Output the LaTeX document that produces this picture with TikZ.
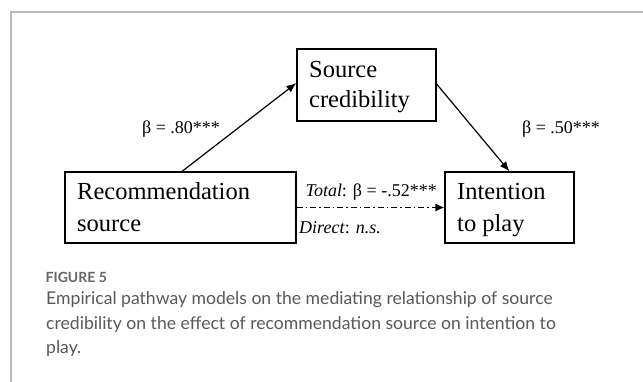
\documentclass[tikz,border=0pt]{standalone}
\usepackage{fontspec}
\setmainfont{Liberation Serif}
\newfontfamily\capfont{Lato}
\usetikzlibrary{arrows.meta}
\definecolor{framegray}{HTML}{BBBBBB}
\definecolor{capgray}{HTML}{595959}
\definecolor{figgray}{HTML}{666666}
\begin{document}
\begin{tikzpicture}[x=1pt,y=-1pt,
  boxnode/.style={draw=black, line width=1.2pt, rectangle, anchor=center, inner sep=0pt},
  boxtext/.style={anchor=west, align=left, inner sep=0pt, font=\fontsize{24.5}{31}\selectfont},
  lbl/.style={font=\fontsize{18}{21}\selectfont, inner sep=0pt},
  arr/.style={line width=1.2pt, -{Latex[length=10pt,width=8pt]}},
  captext/.style={font=\capfont\fontsize{17.6}{24.5}\selectfont, text=capgray, align=left, inner sep=0pt}
]
\useasboundingbox (0,0) rectangle (643,381);
\fill[white] (0,0) rectangle (643,381);
% frame
\draw[framegray, line width=1.5pt] (11,390) -- (11,12) -- (650,12);

% boxes
\node[boxnode, minimum width=139pt, minimum height=72pt] (sc) at (366.5,85) {};
\node[boxtext, font=\fontsize{24.5}{30}\selectfont] (sct) at (309,87) {Source\\credibility};

\node[boxnode, minimum width=231pt, minimum height=71pt] (rec) at (180.5,207.5) {};
\node[boxtext, font=\fontsize{24.5}{32}\selectfont] (rect) at (77,207.5) {Recommendation\\source};

\node[boxnode, minimum width=129pt, minimum height=71pt] (int) at (509.5,207.5) {};
\node[boxtext, font=\fontsize{24.5}{32}\selectfont] (intt) at (457,210) {Intention\\to play};

% arrows
\draw[arr] ([xshift=1.5pt]rec.north) -- ([yshift=2pt]sc.west);
\draw[arr] ([yshift=1pt]sc.east) -- (int.north);
\draw[line width=1.2pt, dash pattern=on 6pt off 3pt on 1.5pt off 3pt, -{Latex[length=9pt,width=8pt]}] (rec.east) -- (int.west);

% labels
\node[lbl] (l1) at (181,129) {β = .80***};
\node[lbl] (l2) at (561,129) {β = .50***};
\node[lbl, anchor=east] (l3) at (437,192) {\textit{Total}: β = -.52***};
\node[lbl, anchor=west] (l4) at (299,228) {\textit{Direct}: \textit{n.s.}};

% caption
\node[anchor=base west, inner sep=0pt, font=\capfont\bfseries\fontsize{14}{16}\selectfont, text=figgray] (fig) at (45.5,282) {FIGURE 5};
\node[captext, anchor=north west] (cap) at (46,291.5) {Empirical pathway models on the mediating relationship of source\\credibility on the effect of recommendation source on intention to\\play.};
\end{tikzpicture}
\end{document}
